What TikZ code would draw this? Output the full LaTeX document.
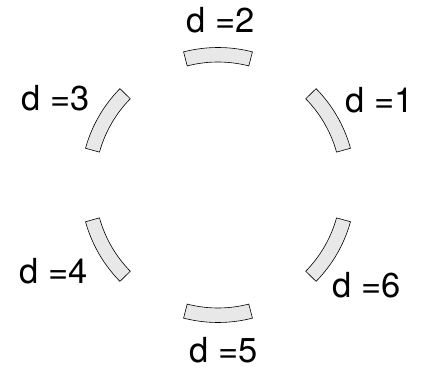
\documentclass[tikz,border=0pt]{standalone}
\usepackage{fontspec}
\setmainfont{TeX Gyre Heros}
\usepackage{tikz}

\begin{document}
\begin{tikzpicture}[
    x=1pt, y=-1pt,
    segment/.style={
        draw=black, fill=gray!18, line width=0.6pt, line join=miter
    },
    dlabel/.style={
        anchor=base, inner sep=0pt, font=\fontsize{34.5}{38}\selectfont
    },
]
\useasboundingbox (0,0) rectangle (438,374);

% ── Ring of segments ──
\coordinate (ctr) at (218,185);
\foreach \ang in {30,90,150,210,270,330} {
    \draw[segment, shift={(ctr)}]
        (-\ang-14.5:123) arc[start angle=-\ang-14.5, end angle=-\ang+14.5, radius=123]
        -- (-\ang+14.5:137.5) arc[start angle=-\ang+14.5, end angle=-\ang-14.5, radius=137.5]
        -- cycle;
}

% ── Labels ──
\node[dlabel] (d1) at (380,113) {d =1};
\node[dlabel] (d2) at (221,33) {d =2};
\node[dlabel] (d3) at (56,111) {d =3};
\node[dlabel] (d4) at (54,283) {d =4};
\node[dlabel] (d5) at (224,362) {d =5};
\node[dlabel] (d6) at (367,297) {d =6};

\end{tikzpicture}
\end{document}
